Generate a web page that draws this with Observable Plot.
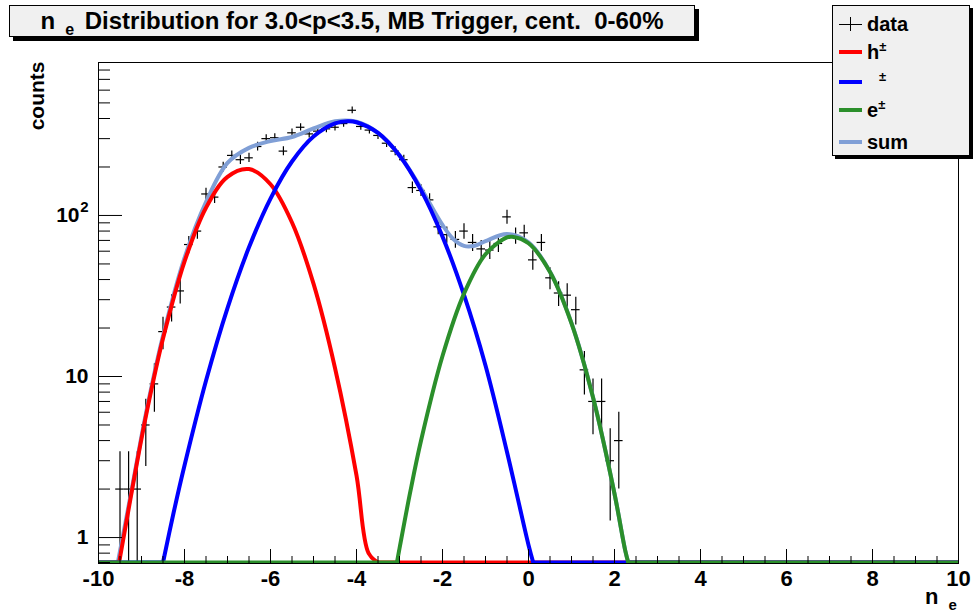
<!DOCTYPE html>
<html><head><meta charset="utf-8">
<script src="https://cdn.jsdelivr.net/npm/d3@7"></script>
<script src="https://cdn.jsdelivr.net/npm/@observablehq/plot@0.6"></script>
<style>
html,body{margin:0;padding:0;background:#fff;}
#wrap{position:relative;width:976px;height:616px;overflow:hidden;font-family:"Liberation Sans",Arial,sans-serif;font-weight:bold;color:#000;}
#wrap svg{position:absolute;left:0;top:0;}
#title{position:absolute;left:9px;top:5px;width:684px;height:30px;border:1px solid #000;background:#f0f0f0;box-shadow:4px 4px 0 #000;text-align:center;font-size:24px;line-height:30px;white-space:nowrap;}
#title .sub{font-size:16px;position:relative;top:6px;margin-left:10px;margin-right:4px;}
#legend{position:absolute;left:832px;top:5px;width:136px;height:149px;border:1px solid #000;background:#f0f0f0;box-shadow:3px 3px 0 #000;}
.lg-line{position:absolute;left:6px;width:23px;height:4px;}
.lg-text{position:absolute;left:34px;font-size:20px;line-height:20px;white-space:nowrap;}
.lg-text .sup{font-size:13px;position:relative;top:-8px;}
.lg-text .ph{display:inline-block;width:12px;}
#ylab{position:absolute;right:939px;top:51px;font-size:21px;line-height:21px;white-space:nowrap;transform-origin:100% 50%;transform:rotate(-90deg);}
#xlab{position:absolute;left:925px;top:586px;font-size:22px;line-height:22px;white-space:nowrap;}
#xlab .sub{font-size:15px;position:relative;top:6px;margin-left:10px;}
</style>
</head><body>
<div id="wrap"></div>
<script>
// ---- data: histogram (bin centres, counts) ----
const binWidth = 0.2;
const binCenters = [-9.5,-9.3,-9.1,-8.9,-8.7,-8.5,-8.3,-8.1,-7.9,-7.7,-7.5,-7.3,-7.1,-6.9,-6.7,-6.5,-6.3,-6.1,-5.9,-5.7,-5.5,-5.3,-5.1,-4.9,-4.7,-4.5,-4.3,-4.1,-3.9,-3.7,-3.5,-3.3,-3.1,-2.9,-2.7,-2.5,-2.3,-2.1,-1.9,-1.7,-1.5,-1.3,-1.1,-0.9,-0.7,-0.5,-0.3,-0.1,0.1,0.3,0.5,0.7,0.9,1.1,1.3,1.5,1.7,1.9,2.1];
const counts = [2,2,2,5,9,19,27,34,66,80,136,130,200,236,222,228,268,300,304,251,326,353,321,334,345,353,372,450,357,339,314,281,251,222,149,143,125,85,76,71,80,68,62,61,67,98,75,78,53,68,41,33,32,26,11,7,7,3,4];

// ---- fitted curves (value at the clipped floor = floorValue) ----
const floorValue = 0.70;
const xRange = [-10, 10];
const hX = [-9.52,-9.25,-9,-8.75,-8.5,-8,-7.5,-7,-6.5,-6,-5.5,-5,-4.5,-4,-3.72,-3.5];
const hY = [0.70,1.78,4.12,8.77,17.2,51.7,111.7,173.8,194.1,156.3,90.4,37.7,11.3,2.43,0.80,0.70];
const piX = [-8.5,-8.25,-8,-7.5,-7,-6.5,-6,-5.5,-5,-4.5,-4.2,-4,-3.5,-3,-2.5,-2,-1.5,-1,-0.5,-0.25,0,0.11];
const piY = [0.70,1.44,2.80,9.40,26.6,63.4,127.4,216.3,309.3,373.2,384.6,379.4,325.5,235.5,143.6,73.9,32.1,11.7,3.4,1.75,0.9,0.70];
const eX = [-3.06,-3,-2.75,-2.5,-2,-1.5,-1,-0.5,-0.38,0,0.5,1,1.5,2,2.25,2.32];
const eY = [0.70,0.855,1.92,3.99,13.4,32.7,57.5,73.1,73.8,67.2,44.6,21.4,7.43,1.87,0.83,0.70];
const sumX = [-9.55,-9.25,-9,-8.75,-8.5,-8,-7.5,-7,-6.5,-6,-5.5,-5,-4.5,-4,-3.5,-3,-2.5,-2,-1.75,-1.5,-1.25,-1,-0.5,0,0.5,1,1.5,2,2.25,2.32];
const sumY = [0.70,1.85,4.27,9.10,17.9,54.5,121.1,212,263,290,307,347,384.5,381.8,326,236.4,147.6,87.3,71.5,64.8,64.9,69.2,76.7,68.1,44.8,21.5,7.43,1.87,0.83,0.70];

// ---- axes ----
const xMajorTicks = [-10,-8,-6,-4,-2,0,2,4,6,8,10];
const xMinorTicks = [-9.5,-9,-8.5,-7.5,-7,-6.5,-5.5,-5,-4.5,-3.5,-3,-2.5,-1.5,-1,-0.5,0.5,1,1.5,2.5,3,3.5,4.5,5,5.5,6.5,7,7.5,8.5,9,9.5];
const yMajorTicks = [1,10,100];
const yTickLabels = ["1","10","10"];
const yTickSup = ["","","2"];
const yMinorTicks = [0.7,0.8,0.9,2,3,4,5,6,7,8,9,20,30,40,50,60,70,80,90,200,300,400,500,600,700,800];
const yDomain = [0.69, 891];

// ---- legend ----
const legendNames = ["data","h","","e","sum"];
const legendSup = ["","\u00B1","\u00B1","\u00B1",""];
const colors = {h:"#ff0000", pi:"#0000ff", e:"#2b8f2b", sum:"#809fd6"};
const legendColors = [null, colors.h, colors.pi, colors.e, colors.sum];

const hist = binCenters.map((x,i)=>({x, n: counts[i]}));
const pts = (xs, ys) => xs.map((x,i)=>({x, y: ys[i]}));
const floorSegs = (xs) => [
  {x: xRange[0], y: floorValue, s: 0}, {x: xs[0], y: floorValue, s: 0},
  {x: xs[xs.length-1], y: floorValue, s: 1}, {x: xRange[1], y: floorValue, s: 1}
];
function curveMarks(xs, ys, color) {
  return [
    Plot.line(floorSegs(xs), {x:"x", y:"y", z:"s", stroke: color, strokeWidth: 4, clip: true}),
    Plot.line(pts(xs, ys), {x:"x", y:"y", stroke: color, strokeWidth: 4, curve: "catmull-rom", clip: true})
  ];
}
const yLab = yMajorTicks.map((v,i)=>({v, t: yTickLabels[i], s: yTickSup[i]}));

const chart = Plot.plot({
  width: 976, height: 616,
  marginLeft: 98, marginRight: 18, marginTop: 62, marginBottom: 53,
  x: {domain: xRange},
  y: {type: "log", domain: yDomain},
  style: {fontFamily: "'Liberation Sans', Arial, sans-serif", fontWeight: "bold", fontSize: "21px", color: "#000", background: "transparent", overflow: "visible"},
  marks: [
    Plot.ruleX(hist, {x: "x", y1: d => Math.max(d.n - Math.sqrt(d.n), 0.01), y2: d => d.n + Math.sqrt(d.n), stroke: "#000", strokeWidth: 1.2, clip: true}),
    Plot.ruleY(hist, {y: "n", x1: d => d.x - binWidth/2, x2: d => d.x + binWidth/2, stroke: "#000", strokeWidth: 1.2, clip: true}),
    ...curveMarks(sumX, sumY, colors.sum),
    ...curveMarks(hX, hY, colors.h),
    ...curveMarks(piX, piY, colors.pi),
    ...curveMarks(eX, eY, colors.e),
    Plot.frame({stroke: "#000", strokeWidth: 1}),
    Plot.axisX({ticks: xMinorTicks, tickSize: 7, dy: -7, fill: "none", label: null, stroke: "#000"}),
    Plot.axisX({ticks: xMajorTicks, tickSize: 14, dy: -14, fill: "none", label: null, stroke: "#000"}),
    Plot.axisX({ticks: xMajorTicks, tickSize: 0, stroke: "none", tickPadding: 7, tickFormat: d => String(d), label: null, fontSize: 22, fontWeight: "bold"}),
    Plot.axisY({ticks: yMinorTicks, tickSize: 12, dx: 12, fill: "none", label: null, stroke: "#000"}),
    Plot.axisY({ticks: yMajorTicks, tickSize: 24, dx: 24, fill: "none", label: null, stroke: "#000"}),
    Plot.text(yLab.filter(d => !d.s), {y: "v", text: "t", frameAnchor: "left", textAnchor: "end", dx: -10, fontSize: 21, fontWeight: "bold"}),
    Plot.text(yLab.filter(d => d.s), {y: "v", text: "t", frameAnchor: "left", textAnchor: "end", dx: -19, fontSize: 21, fontWeight: "bold"}),
    Plot.text(yLab.filter(d => d.s), {y: "v", text: "s", frameAnchor: "left", textAnchor: "end", dx: -10, dy: -8, fontSize: 15, fontWeight: "bold"})
  ]
});

const wrap = document.getElementById("wrap");
wrap.appendChild(chart);

// title
const title = document.createElement("div");
title.id = "title";
title.innerHTML = 'n<span class="sub">e</span> Distribution for 3.0&lt;p&lt;3.5, MB Trigger, cent.&nbsp; 0-60%';
wrap.appendChild(title);

// y label
const ylab = document.createElement("div");
ylab.id = "ylab"; ylab.textContent = "counts";
wrap.appendChild(ylab);

// x label
const xlab = document.createElement("div");
xlab.id = "xlab"; xlab.innerHTML = 'n<span class="sub">e</span>';
wrap.appendChild(xlab);

// legend
const legend = document.createElement("div");
legend.id = "legend";
const rowY = [18, 46, 76, 104, 136];
legendNames.forEach((name, i) => {
  if (legendColors[i]) {
    const l = document.createElement("div");
    l.className = "lg-line";
    l.style.top = (rowY[i] - 2) + "px";
    l.style.background = legendColors[i];
    legend.appendChild(l);
  } else {
    const h = document.createElement("div");
    h.style.cssText = `position:absolute;left:6px;width:23px;height:1.3px;background:#000;top:${rowY[i]}px;`;
    const v = document.createElement("div");
    v.style.cssText = `position:absolute;left:17px;width:1.3px;height:14px;background:#000;top:${rowY[i]-7}px;`;
    legend.appendChild(h); legend.appendChild(v);
  }
  const t = document.createElement("div");
  t.className = "lg-text";
  t.style.top = (rowY[i] - 10) + "px";
  t.innerHTML = (name === "" ? '<span class="ph"></span>' : name) + (legendSup[i] ? `<span class="sup">${legendSup[i]}</span>` : "");
  legend.appendChild(t);
});
wrap.appendChild(legend);
</script>
</body></html>
